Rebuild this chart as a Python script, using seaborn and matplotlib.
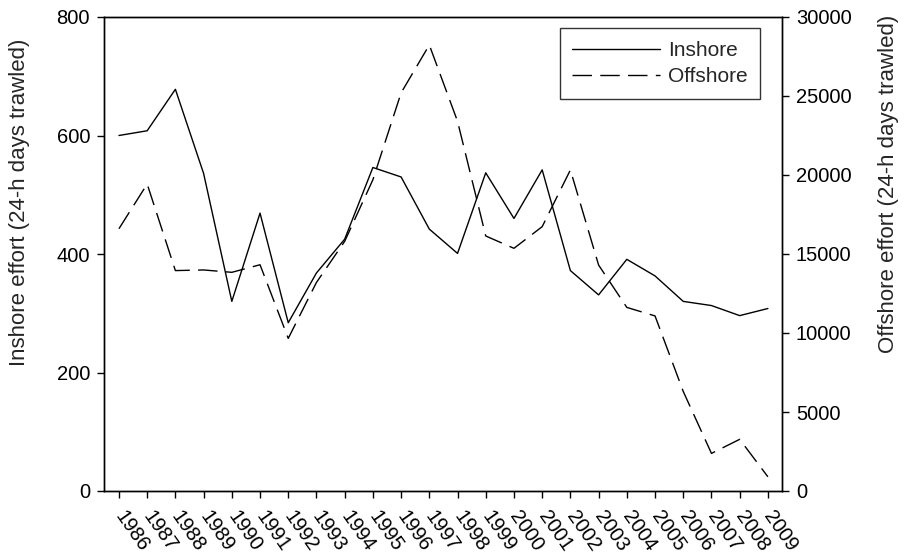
import matplotlib
matplotlib.use("Agg")
import matplotlib.pyplot as plt
import seaborn as sns
import pandas as pd

years = list(range(1986, 2010))
inshore = [600, 608, 678, 536, 320, 469, 284, 368, 425, 546, 530, 442,
           401, 537, 460, 542, 372, 331, 391, 363, 320, 313, 296, 308]
offshore = [16600, 19430, 13950, 13990, 13840, 14320, 9660, 13200, 15800, 19700,
            25200, 28230, 23400, 16140, 15360, 16730, 20320, 14300, 11620, 11080,
            6300, 2380, 3270, 900]

sns.set_style("ticks")
plt.rcParams['font.family'] = ['Liberation Sans', 'DejaVu Sans']

df = pd.DataFrame({"year": years, "inshore": inshore, "offshore": offshore})

fig = plt.figure(figsize=(9.06, 5.59), dpi=100)
ax = fig.add_axes([104/906, 1 - 491/559, (782 - 104)/906, (491 - 17)/559])
ax2 = ax.twinx()

sns.lineplot(data=df, x="year", y="inshore", ax=ax, color="black", lw=1.0,
             label="Inshore", legend=False)
sns.lineplot(data=df, x="year", y="offshore", ax=ax2, color="black", lw=1.0,
             label="Offshore", legend=False)
ax2.lines[0].set_dashes((14, 6))

ax.set_xlim(1985.47, 2009.5)
ax.set_ylim(0, 800)
ax2.set_ylim(0, 30000)
ax.set_yticks([0, 200, 400, 600, 800])
ax2.set_yticks([0, 5000, 10000, 15000, 20000, 25000, 30000])
ax.set_xticks(years)
ax.set_xticklabels([str(y) for y in years], rotation=-55, ha="left",
                   va="center", rotation_mode="anchor", fontsize=14)

for a in (ax, ax2):
    for s in a.spines.values():
        s.set_visible(True)
        s.set_color("black")
        s.set_linewidth(1.0)
    a.tick_params(direction="out", length=5, width=1.0, colors="black",
                  labelsize=14.5, pad=5)
ax.tick_params(axis="x", pad=11)

ax.set_xlabel("")
ax.set_ylabel("Inshore effort (24-h days trawled)", fontsize=16)
ax2.set_ylabel("Offshore effort (24-h days trawled)", fontsize=16)
ax.yaxis.set_label_coords(-0.109, 0.608)
ax2.yaxis.set_label_coords(1.142, 0.648)

h1, l1 = ax.get_legend_handles_labels()
h2, l2 = ax2.get_legend_handles_labels()
leg = ax2.legend(h1 + h2, l1 + l2, loc="upper right", bbox_to_anchor=(0.968, 0.976),
                 fontsize=15, frameon=True, fancybox=False, handlelength=4.2,
                 handletextpad=0.4, borderpad=0.6, labelspacing=0.35,
                 borderaxespad=0)
leg.get_frame().set_edgecolor("black")
leg.get_frame().set_linewidth(1.0)

fig.savefig("out.png", dpi=100)
